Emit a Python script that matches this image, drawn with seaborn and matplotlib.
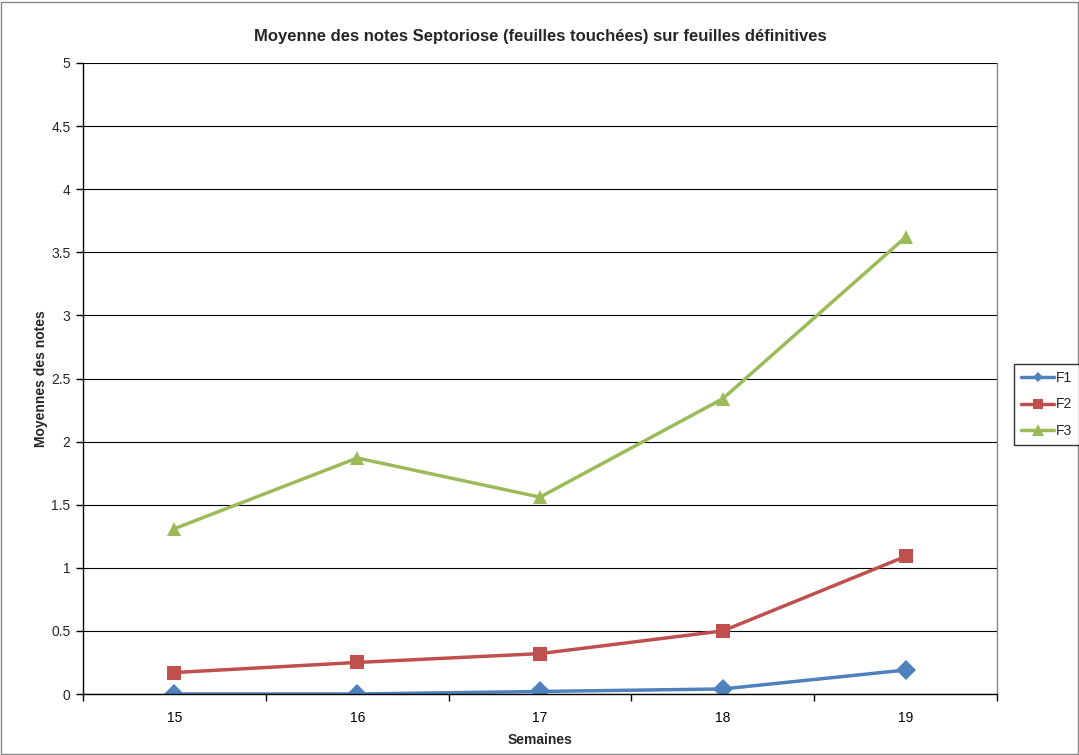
import matplotlib
matplotlib.use("Agg")
import matplotlib.pyplot as plt
import seaborn as sns
import pandas as pd
from matplotlib.patches import Rectangle
from matplotlib.lines import Line2D
from matplotlib.ticker import FixedLocator, FuncFormatter

weeks = ["15", "16", "17", "18", "19"]
f1 = [0.0, 0.0, 0.02, 0.04, 0.19]
f2 = [0.17, 0.25, 0.32, 0.50, 1.09]
f3 = [1.31, 1.87, 1.56, 2.34, 3.62]
series_names = ["F1", "F2", "F3"]
colors = ["#4F81BD", "#C0504D", "#9BBB59"]

rows = []
for name, vals in zip(series_names, [f1, f2, f3]):
    for i, (w, v) in enumerate(zip(weeks, vals)):
        rows.append({"pos": i, "week": w, "value": v, "serie": name})
df = pd.DataFrame(rows)

sns.set_theme(style="white")
plt.rcParams["font.family"] = ["Liberation Sans", "DejaVu Sans"]

fig = plt.figure(figsize=(10.79, 7.55), dpi=100)
ax = fig.add_axes([83/1079, 61/755, (997-83)/1079, (694-63)/755])

sns.lineplot(data=df, x="pos", y="value", hue="serie", style="serie",
             palette=dict(zip(series_names, colors)),
             markers={"F1": "D", "F2": "s", "F3": "^"},
             dashes=False, linewidth=2.5, markersize=10,
             markeredgewidth=0, ax=ax, legend=False)

ax.set_xlim(-0.5, len(weeks) - 0.5)
ax.set_ylim(0, 5)
ax.set_yticks([i * 0.5 for i in range(11)])
ax.yaxis.set_major_formatter(FuncFormatter(lambda v, p: ("%g" % v)))
ax.set_xticks(range(len(weeks)))
ax.set_xticklabels(weeks)
ax.xaxis.set_minor_locator(FixedLocator([i - 0.5 for i in range(len(weeks) + 1)]))
ax.tick_params(axis="x", which="major", length=0, labelsize=10, pad=12, colors="black")
ax.tick_params(axis="x", which="minor", length=5, width=1, color="black", direction="out", bottom=True)
ax.tick_params(axis="y", which="major", length=5, width=1, color="black", direction="out", left=True, labelsize=10, pad=4)
ax.grid(axis="y", color="#000000", linewidth=0.8)
ax.set_axisbelow(True)
for side in ["left", "bottom"]:
    ax.spines[side].set_color("black")
    ax.spines[side].set_linewidth(1)
ax.spines["right"].set_color("#888888")
ax.spines["right"].set_linewidth(1)
ax.spines["top"].set_visible(False)

ax.set_xlabel("Semaines", fontsize=10, fontweight="bold", labelpad=6)
ax.set_ylabel("Moyennes des notes", fontsize=10, fontweight="bold", labelpad=2)
ax.set_title("Moyenne des notes Septoriose (feuilles touchées) sur feuilles définitives",
             fontsize=12, fontweight="bold", pad=16)

handles = [Line2D([0], [0], color=c, marker=m, linewidth=2.5, markersize=ms, markeredgewidth=0)
           for c, m, ms in zip(colors, ["D", "s", "^"], [5, 7, 8])]
leg = fig.legend(handles, series_names, loc="upper left",
                 bbox_to_anchor=(1014/1079, 1 - 364/755), frameon=True, fancybox=False,
                 fontsize=10, handlelength=2.4, handletextpad=0.15, borderpad=0.5,
                 labelspacing=0.9, borderaxespad=0)
leg.get_frame().set_edgecolor("black")
leg.get_frame().set_linewidth(1)

fig.patches.append(Rectangle((0.0008, 0.001), 0.998, 0.997, transform=fig.transFigure,
                             fill=False, edgecolor="#888888", linewidth=1))

fig.savefig("out.png", dpi=100)
